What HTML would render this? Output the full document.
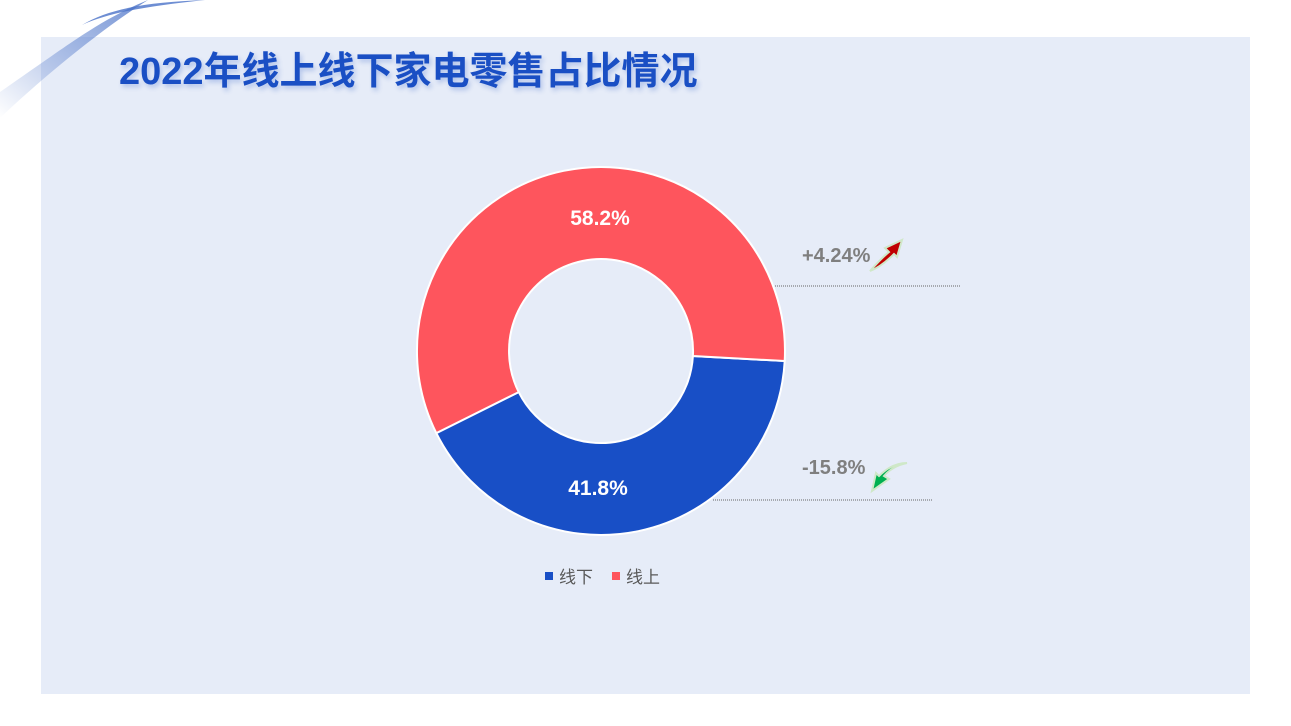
<!DOCTYPE html>
<html><head><meta charset="utf-8"><style>
body{margin:0;width:1291px;height:726px;background:#fff;position:relative;overflow:hidden;font-family:"Liberation Sans","Noto Sans CJK SC",sans-serif}
.panel{position:absolute;left:41px;top:37px;width:1209px;height:657px;background:#e6ecf8}
.title{position:absolute;left:119px;top:40px;font-size:38px;font-weight:bold;color:#1a4fc4;letter-spacing:0px;text-shadow:2px 3px 5px rgba(26,79,196,0.25);font-family:"Liberation Sans","Noto Sans CJK SC",sans-serif}
</style></head><body>
<div class="panel"></div>
<svg style="position:absolute;left:0;top:0" width="1291" height="726">
<defs>
<linearGradient id="g1" x1="1" y1="0" x2="0" y2="1"><stop offset="0" stop-color="#4a72c8"/><stop offset="1" stop-color="#4a72c8" stop-opacity="0"/></linearGradient>
</defs>
<path d="M148,0 C100,20 75,40 0,92 L0,118 C40,80 100,30 148,0Z" fill="url(#g1)" opacity="0.8"/>
<path d="M82,25 C110,8 150,2 205,0 C150,6 110,12 82,25Z" fill="#4a72c8" opacity="0.8"/>
<path d="M784.7,361.0 A184,184 0 0 1 436.3,433.1 L518.7,392.1 A92,92 0 0 0 692.9,356.0 Z" fill="#184fc6" stroke="#fff" stroke-width="2"/>
<path d="M436.3,433.1 A184,184 0 1 1 784.7,361.0 L692.9,356.0 A92,92 0 1 0 518.7,392.1 Z" fill="#fe555d" stroke="#fff" stroke-width="2"/>
<text x="600" y="225" fill="#fff" font-size="21" font-weight="bold" text-anchor="middle" font-family="Liberation Sans">58.2%</text>
<text x="598" y="495" fill="#fff" font-size="21" font-weight="bold" text-anchor="middle" font-family="Liberation Sans">41.8%</text>
<line x1="775" y1="286" x2="961" y2="286" stroke="#666" stroke-width="1" stroke-dasharray="1,1"/>
<line x1="713" y1="500" x2="932" y2="500" stroke="#666" stroke-width="1" stroke-dasharray="1,1"/>
<text x="802" y="262" fill="#7f7f7f" font-size="20" font-weight="bold" font-family="Liberation Sans">+4.24%</text>
<text x="802" y="474" fill="#7f7f7f" font-size="20" font-weight="bold" font-family="Liberation Sans">-15.8%</text>
<path d="M870,271 C878,262 884,256 889,252 L885,248 L902,240 L897,257 L894,254 C886,262 878,268 870,271Z" fill="#c00000" stroke="#cfe8c8" stroke-width="2"/>
<path d="M907,463 C896,465 888,471 884,476 L889,479 L872,491 L876,473 L879,476 C888,467 897,463 907,463Z" fill="#00b050" stroke="#cfe8c8" stroke-width="2"/>
<rect x="545" y="572" width="8" height="8" fill="#184fc6"/>
<text x="559" y="583" fill="#595959" font-size="17" font-family="Liberation Sans, Noto Sans CJK SC, sans-serif">线下</text>
<rect x="612" y="572" width="8" height="8" fill="#fe555d"/>
<text x="626" y="583" fill="#595959" font-size="17" font-family="Liberation Sans, Noto Sans CJK SC, sans-serif">线上</text>
</svg>
<div class="title">2022年线上线下家电零售占比情况</div>
</body></html>
